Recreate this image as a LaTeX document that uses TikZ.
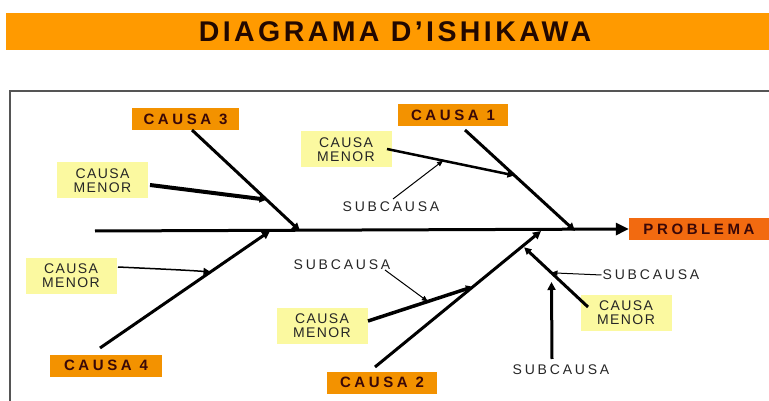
\documentclass[tikz,border=0pt]{standalone}
\usepackage{fontspec}
\setmainfont{Liberation Sans}
\newfontfamily\titlefont{Liberation Sans}[LetterSpace=12]
\newfontfamily\boxfont{Liberation Sans}[LetterSpace=24]
\newfontfamily\minorfont{Liberation Sans}[LetterSpace=10]
\newfontfamily\subfont{Liberation Sans}[LetterSpace=20]
\usetikzlibrary{arrows.meta,calc}

\definecolor{barorange}{HTML}{FF9A00}
\definecolor{causeorange}{HTML}{F39200}
\definecolor{problemorange}{HTML}{F26A10}
\definecolor{minoryellow}{HTML}{FBF9A0}
\definecolor{darkink}{HTML}{3A0808}
\definecolor{titleink}{HTML}{220800}
\definecolor{framegray}{HTML}{555555}

\tikzset{
  causebox/.style={fill=causeorange, inner sep=0pt, minimum height=22pt,
    text=darkink, font=\boxfont\bfseries\fontsize{15}{17}\selectfont},
  minorbox/.style={fill=minoryellow, inner sep=0pt, minimum width=91pt,
    minimum height=36pt, align=center, text=black!85,
    font=\minorfont\fontsize{14}{14}\selectfont},
  sublabel/.style={inner sep=1pt, text=black!85,
    font=\subfont\fontsize{14}{15}\selectfont},
  spine/.style={line width=3pt, -{Triangle[length=13pt,width=12pt]}},
  bone/.style={line width=3pt, -{Triangle[length=8pt,width=8pt]}},
  minorline/.style={line width=#1, -{Triangle[length=7pt,width=7pt]}},
  subline/.style={line width=1pt, -{Triangle[length=6pt,width=5pt]}},
}

\begin{document}
\begin{tikzpicture}[x=1pt, y=-1pt]
  \useasboundingbox (0,0) rectangle (769,401);

  % title banner
  \fill[barorange] (6,13) rectangle (780,50);
  \node[inner sep=0pt, text=titleink, font=\titlefont\bfseries\fontsize{28.5}{30}\selectfont]
    (title) at (395,32) {DIAGRAMA D’ISHIKAWA};

  % frame around the diagram
  \draw[framegray, line width=1.5pt] (10,91) rectangle (790,420);

  % main causes
  \node[causebox, minimum width=107pt] (c3) at (185.5,119.5) {CAUSA 3};
  \node[causebox, minimum width=110pt] (c1) at (453,115.5) {CAUSA 1};
  \node[causebox, minimum width=112pt] (c4) at (106,365.5) {CAUSA 4};
  \node[causebox, minimum width=110pt] (c2) at (382,382.5) {CAUSA 2};
  \node[causebox, fill=problemorange, minimum width=140pt] (prob) at (699,229) {PROBLEMA};

  % minor causes
  \node[minorbox] (m3) at (102.5,180.5) {CAUSA\\MENOR};
  \node[minorbox] (m1) at (346,149.5) {CAUSA\\MENOR};
  \node[minorbox] (m4) at (71,276) {CAUSA\\MENOR};
  \node[minorbox] (m2) at (322,325.5) {CAUSA\\MENOR};
  \node[minorbox] (m5) at (626,312.5) {CAUSA\\MENOR};

  % sub-cause labels
  \node[sublabel] (s1) at (391,207) {SUBCAUSA};
  \node[sublabel] (s2) at (342,265) {SUBCAUSA};
  \node[sublabel] (s3) at (651,275) {SUBCAUSA};
  \node[sublabel] (s4) at (561,370) {SUBCAUSA};

  % spine
  \coordinate (tail) at (95,231);
  \draw[spine] (tail) -- (prob.west);

  % bones: start points near the boxes, end points on the spine
  \coordinate (b3s) at (192,130);  \coordinate (b3e) at (300,231);
  \coordinate (b1s) at (465,130);  \coordinate (b1e) at (575,231);
  \coordinate (b4s) at (100,348);  \coordinate (b4e) at (270,231);
  \coordinate (b2s) at (375,367);  \coordinate (b2e) at (541,231);
  \draw[bone] (b3s) -- (b3e);
  \draw[bone] (b1s) -- (b1e);
  \draw[bone] (b4s) -- (b4e);
  \draw[bone] (b2s) -- (b2e);

  % points where minor causes meet the bones
  \coordinate (p3) at ($(b3s)!0.69!(b3e)$);
  \coordinate (p1) at ($(b1s)!0.45!(b1e)$);
  \coordinate (p4) at ($(b4s)!0.65!(b4e)$);
  \coordinate (p2) at ($(b2s)!0.59!(b2e)$);
  \coordinate (p5) at ($(b2s)!0.89!(b2e)$);

  % minor cause lines
  \coordinate (m3o) at (150,185);
  \coordinate (m1o) at (387,149);
  \coordinate (m4o) at (118,267);
  \coordinate (m2o) at (368,321);
  \coordinate (m5o) at (588,307);
  \draw[minorline=4pt] (m3o) -- (p3);
  \draw[minorline=2.5pt] (m1o) -- (p1);
  \draw[minorline=1.5pt] (m4o) .. controls (160,269) and (185,270) .. (p4);
  \draw[minorline=3.5pt] (m2o) -- (p2);
  \draw[minorline=3pt, shorten >=2pt] (m5o) -- (p5);

  % sub-cause arrows
  \coordinate (q1) at ($(m1o)!0.44!(p1)$);
  \coordinate (q2) at ($(m2o)!0.57!(p2)$);
  \coordinate (q3) at ($(m5o)!0.56!(p5)$);
  \draw[subline] (393,199) -- (q1);
  \draw[subline] (385,270) -- (q2);
  \draw[subline] (s3.west) -- (q3);
  \draw[line width=3pt, -{Triangle[length=8pt,width=8pt]}, shorten >=6pt]
    (552,359) -- (q3 |- 0,276);
\end{tikzpicture}
\end{document}
